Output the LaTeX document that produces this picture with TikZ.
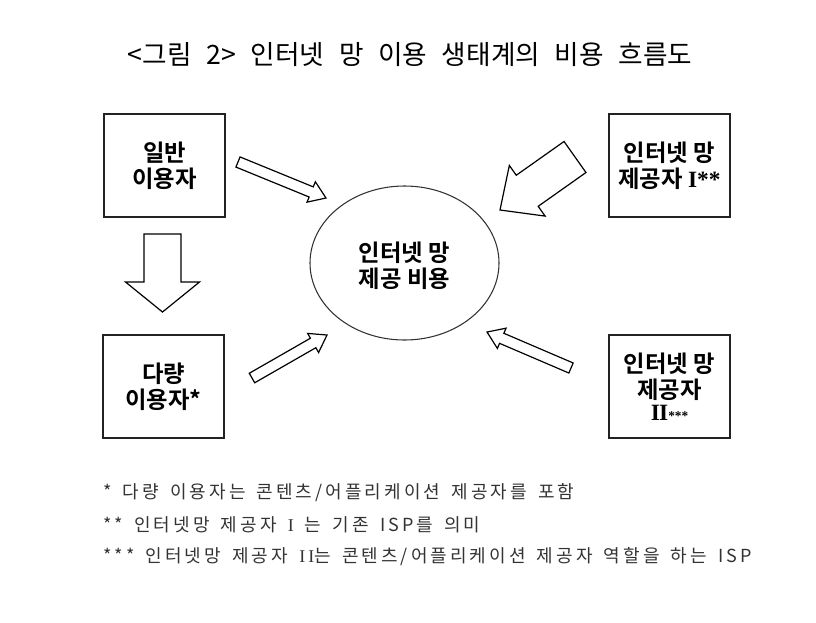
\documentclass[tikz,border=0pt]{standalone}
\usepackage{fontspec}
\setmainfont{Noto Sans CJK KR}
\newfontfamily\krb{Noto Sans CJK KR Bold}
\newfontfamily\krnote[LetterSpace=17]{Noto Sans CJK KR}
\newfontfamily\rom{Liberation Serif}
\newfontfamily\romnote[LetterSpace=17]{Liberation Serif}
\usetikzlibrary{calc}
\definecolor{boxline}{HTML}{222222}
\definecolor{notegray}{HTML}{333333}
\newcommand\notesp{\spaceskip=0.62em\relax}
\tikzset{
  box/.style={draw=boxline, line width=1.1pt, minimum width=90.75pt, minimum height=77.25pt, inner sep=0pt, align=center, font=\krb\fontsize{17.5}{19.5}\selectfont},
  harrow/.style={draw=black, line width=0.9pt, fill=white, line join=miter},
  note/.style={anchor=west, inner sep=0pt, text=notegray, font=\krnote\fontsize{13.5}{15}\selectfont},
}
\newcommand\hollowarrow[5]{%
  \coordinate (hH) at ($(#2)!#5!(#1)$);
  \draw[harrow] ($(#1)!#3!90:(#2)$) -- ($(hH)!#3!90:(#2)$) -- ($(hH)!#4!90:(#2)$) -- (#2)
     -- ($(hH)!#4!-90:(#2)$) -- ($(hH)!#3!-90:(#2)$) -- ($(#1)!#3!-90:(#2)$) -- cycle;
}
\begin{document}
\begin{tikzpicture}[x=0.75pt, y=-0.75pt]
\useasboundingbox (0,0) rectangle (816,622);
\fill[white] (0,0) rectangle (816,622);
% title
\node[inner sep=0pt, font=\fontsize{20}{22}\selectfont] (title) at (410,55) {\spaceskip=0.55em <그림 2> 인터넷 망 이용 생태계의 비용 흐름도};
% boxes
\node[box] (gen) at (164.5,165.5) {일반\\이용자};
\node[box] (isp1) at (669.5,165.5) {인터넷 망\\제공자 {\rom\bfseries I**}};
\node[box] (heavy) at (163.5,386.5) {다량\\이용자*};
\node[box] (isp2) at (669.5,386.5) {인터넷 망\\제공자\\[-3pt]{\rom\bfseries I\kern-0.5pt I\fontsize{10}{10}\selectfont***}};
% ellipse
\draw[draw=notegray, line width=0.8pt] (404.5,263) ellipse [x radius=94.5, y radius=77];
\node[inner sep=0pt, align=center, font=\krb\fontsize{17.5}{19.5}\selectfont] (cost) at (404.5,266) {인터넷 망\\제공 비용};
% arrow end points
\coordinate (a1s) at (238,162); \coordinate (a1e) at (326,198);
\coordinate (a2s) at (252,378); \coordinate (a2e) at (327,335);
\coordinate (a3s) at (571,368); \coordinate (a3e) at (487,332);
\coordinate (a4s) at (575,157); \coordinate (a4e) at (500,210);
\coordinate (a5s) at (162.5,234); \coordinate (a5e) at (162.5,312);
\hollowarrow{a1s}{a1e}{4.1pt}{8.25pt}{12pt}
\hollowarrow{a2s}{a2e}{4.1pt}{8.25pt}{12pt}
\hollowarrow{a3s}{a3e}{4.1pt}{8.25pt}{12pt}
\hollowarrow{a4s}{a4e}{14.25pt}{23.25pt}{25pt}
\hollowarrow{a5s}{a5e}{13.9pt}{27.75pt}{22.5pt}
% notes
\node[note] (n1) at (103,493) {\notesp * 다량 이용자는 콘텐츠/어플리케이션 제공자를 포함};
\node[note] (n2) at (103,525) {\notesp ** 인터넷망 제공자 {\romnote I} 는 기존 ISP를 의미};
\node[note] (n3) at (103,557) {\notesp *** 인터넷망 제공자 {\romnote II}는 콘텐츠/어플리케이션 제공자 역할을 하는 ISP};
\end{tikzpicture}
\end{document}
